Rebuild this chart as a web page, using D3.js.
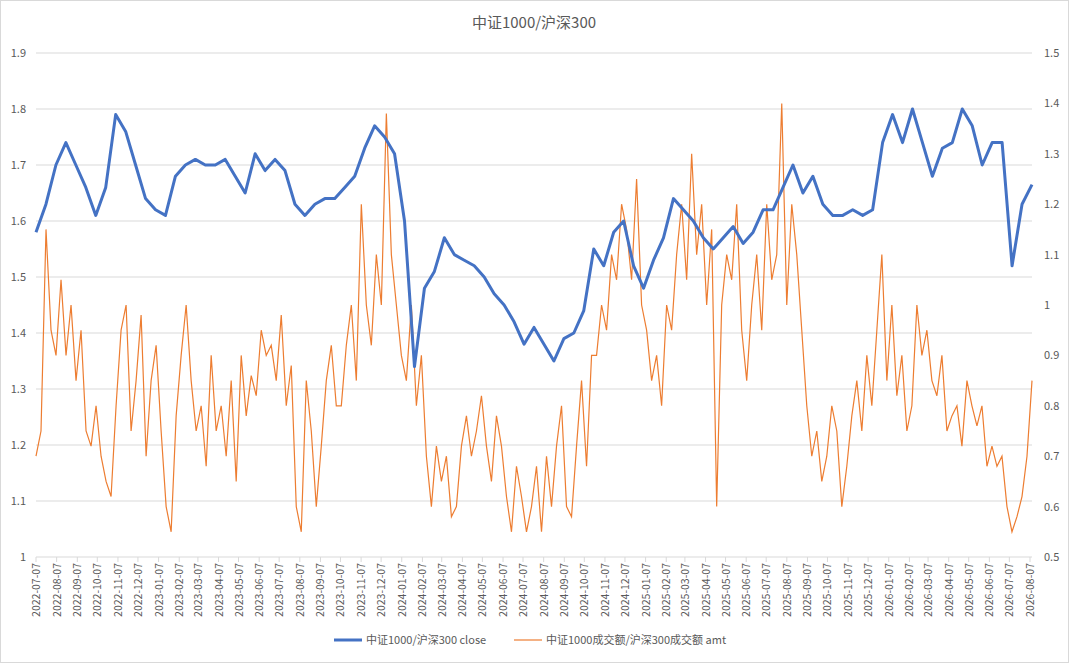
<!DOCTYPE html>
<html><head><meta charset="utf-8">
<script src="https://cdn.jsdelivr.net/npm/d3@7"></script>
<style>body{margin:0;background:#fff;font-family:"Noto Sans CJK SC","DejaVu Sans",sans-serif}</style>
</head><body><svg id="c" width="1069" height="663"></svg>
<script>
const closeVals=[1.58,1.63,1.70,1.74,1.70,1.66,1.61,1.66,1.79,1.76,1.70,1.64,1.62,1.61,1.68,1.70,1.71,1.70,1.70,1.71,1.68,1.65,1.72,1.69,1.71,1.69,1.63,1.61,1.63,1.64,1.64,1.66,1.68,1.73,1.77,1.75,1.72,1.60,1.34,1.48,1.51,1.57,1.54,1.53,1.52,1.50,1.47,1.45,1.42,1.38,1.41,1.38,1.35,1.39,1.40,1.44,1.55,1.52,1.58,1.60,1.52,1.48,1.53,1.57,1.64,1.62,1.60,1.57,1.55,1.57,1.59,1.56,1.58,1.62,1.62,1.66,1.70,1.65,1.68,1.63,1.61,1.61,1.62,1.61,1.62,1.74,1.79,1.74,1.80,1.74,1.68,1.73,1.74,1.80,1.77,1.70,1.74,1.74,1.52,1.63,1.665];
const amtVals=[0.7,0.75,1.15,0.95,0.9,1.05,0.9,1.0,
0.85,0.95,0.75,0.72,0.8,0.7,0.65,0.62,
0.8,0.95,1.0,0.75,0.85,0.98,0.7,0.85,
0.92,0.75,0.6,0.55,0.78,0.9,1.0,0.85,
0.75,0.8,0.68,0.9,0.75,0.8,0.7,0.85,
0.65,0.9,0.78,0.86,0.82,0.95,0.9,0.92,
0.85,0.98,0.8,0.88,0.6,0.55,0.85,0.75,
0.6,0.72,0.85,0.92,0.8,0.8,0.92,1.0,
0.85,1.2,1.0,0.92,1.1,1.0,1.38,1.1,
1.0,0.9,0.85,1.0,0.8,0.9,0.7,0.6,
0.72,0.65,0.7,0.58,0.6,0.72,0.78,0.7,
0.75,0.82,0.72,0.65,0.78,0.72,0.62,0.55,
0.68,0.62,0.55,0.6,0.68,0.55,0.7,0.6,
0.72,0.8,0.6,0.58,0.72,0.85,0.68,0.9,
0.9,1.0,0.95,1.1,1.05,1.2,1.15,1.05,
1.25,1.0,0.95,0.85,0.9,0.8,1.0,0.95,
1.1,1.2,1.05,1.3,1.1,1.2,1.0,1.15,
0.6,1.0,1.1,1.05,1.2,0.95,0.85,1.0,
1.1,0.95,1.2,1.05,1.1,1.4,1.0,1.2,
1.1,0.95,0.8,0.7,0.75,0.65,0.7,0.8,
0.75,0.6,0.68,0.78,0.85,0.75,0.9,0.8,
0.95,1.1,0.85,1.0,0.82,0.9,0.75,0.8,
1.0,0.9,0.95,0.85,0.82,0.9,0.75,0.78,
0.8,0.72,0.85,0.8,0.76,0.8,0.68,0.72,
0.68,0.7,0.6,0.55,0.58,0.62,0.7,0.85];
const leftTicks=[1,1.1,1.2,1.3,1.4,1.5,1.6,1.7,1.8,1.9];
const rightTicks=[0.5,0.6,0.7,0.8,0.9,1,1.1,1.2,1.3,1.4,1.5];
const start=new Date(2022,6,7), end=new Date(2026,7,10);
const tickDates=d3.range(50).map(i=>new Date(2022,6+i,7));
const fmt=d3.timeFormat("%Y-%m-%d");
const svg=d3.select("#c");
svg.append("rect").attr("x",0.5).attr("y",0.5).attr("width",1068).attr("height",662).attr("fill","#fff").attr("stroke","#d9d9d9");
const x=d3.scaleTime().domain([start,end]).range([36,1032]);
const yL=d3.scaleLinear().domain([1,1.9]).range([557,53]);
const yR=d3.scaleLinear().domain([0.5,1.5]).range([557,53]);
const span=end-start;
const cDates=closeVals.map((_,i)=>new Date(+start+span*i/(closeVals.length-1)));
const aDates=amtVals.map((_,i)=>new Date(+start+span*i/(amtVals.length-1)));
const g=svg.append("g");
leftTicks.forEach(t=>{ if(t>1) g.append("line").attr("x1",36).attr("x2",1032).attr("y1",yL(t)).attr("y2",yL(t)).attr("stroke","#d9d9d9");});
g.append("line").attr("x1",36).attr("x2",1032).attr("y1",557).attr("y2",557).attr("stroke","#d9d9d9");
leftTicks.forEach(t=>g.append("text").attr("x",26).attr("y",yL(t)+4).attr("text-anchor","end").attr("font-size",11).attr("fill","#595959").text(t));
rightTicks.forEach(t=>g.append("text").attr("x",1044).attr("y",yR(t)+4).attr("text-anchor","start").attr("font-size",11).attr("fill","#595959").text(t));
tickDates.forEach(d=>{const xx=x(d);
 g.append("line").attr("x1",xx).attr("x2",xx).attr("y1",557).attr("y2",562).attr("stroke","#d9d9d9");
 g.append("text").attr("transform",`translate(${xx+4},563) rotate(-90)`).attr("text-anchor","end").attr("font-size",10.5).attr("fill","#595959").text(fmt(d));});
g.append("path").datum(amtVals).attr("fill","none").attr("stroke","#ED7D31").attr("stroke-width",1.2)
 .attr("d",d3.line().x((d,i)=>x(aDates[i])).y(d=>yR(d)));
g.append("path").datum(closeVals).attr("fill","none").attr("stroke","#4472C4").attr("stroke-width",3).attr("stroke-linejoin","round")
 .attr("d",d3.line().x((d,i)=>x(cDates[i])).y(d=>yL(d)));
svg.append("text").attr("x",534).attr("y",28).attr("text-anchor","middle").attr("font-size",15).attr("fill","#595959").text("中证1000/沪深300");
const lg=svg.append("g").attr("font-size",11).attr("fill","#595959");
lg.append("line").attr("x1",334).attr("x2",362).attr("y1",640).attr("y2",640).attr("stroke","#4472C4").attr("stroke-width",3);
lg.append("text").attr("x",366).attr("y",644).text("中证1000/沪深300 close");
lg.append("line").attr("x1",514).attr("x2",542).attr("y1",640).attr("y2",640).attr("stroke","#ED7D31").attr("stroke-width",1.2);
lg.append("text").attr("x",546).attr("y",644).text("中证1000成交额/沪深300成交额 amt");
</script></body></html>
